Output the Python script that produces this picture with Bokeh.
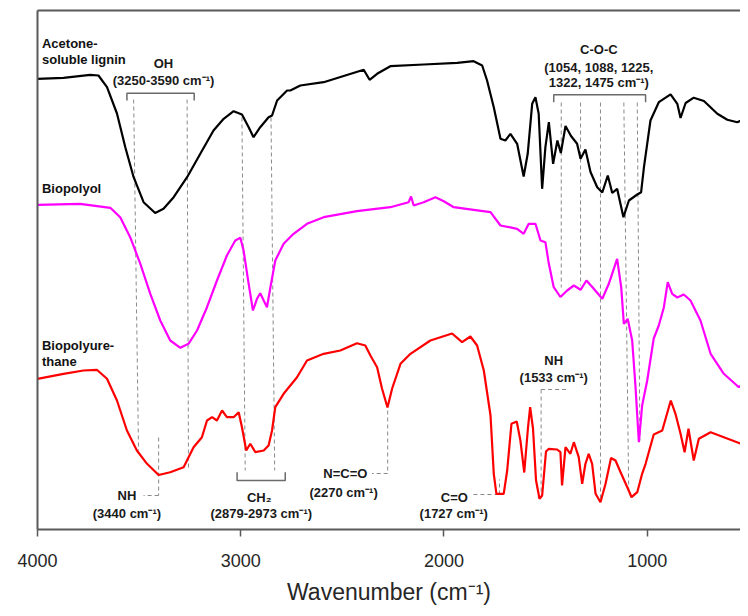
from bokeh.plotting import figure
from bokeh.models import Range1d, FixedTicker, LinearAxis
from bokeh.core.properties import value
from bokeh.embed import file_html
from bokeh.resources import INLINE

FONT = "Liberation Sans"

# ---- spectra (wavenumber, cm-1 ; transmittance, arbitrary offset units) ----
lignin_wn = [4000, 3872, 3741, 3700, 3658, 3609, 3568, 3527, 3478, 3421, 3380, 3330, 3264, 3199,
             3134, 3084, 3035, 2994, 2961, 2937, 2904, 2863, 2846, 2821, 2772, 2756, 2707, 2592,
             2395, 2366, 2329, 2264, 2100, 1935, 1854, 1812, 1788, 1755, 1722, 1698, 1673, 1640,
             1608, 1588, 1566, 1550, 1534, 1517, 1501, 1484, 1463, 1442, 1425, 1402, 1375, 1345,
             1328, 1304, 1279, 1246, 1221, 1194, 1172, 1148, 1117, 1090, 1049, 1030, 1016, 984,
             943, 885, 852, 836, 811, 771, 721, 655, 606, 557, 501]
lignin_t = [450.7, 451.7, 454.7, 454, 442.3, 416, 382.3, 352.3, 327.3, 316.5, 320.7, 332.3, 352.3,
            375.7, 399, 410.7, 418.3, 415, 402.3, 392.3, 402.3, 412.3, 414, 429, 439, 439, 444,
            447.3, 459.7, 449.7, 455.7, 463.3, 465, 466.7, 468.3, 464, 449, 422.3, 390.7, 389,
            395.7, 385.7, 353, 375.7, 425.7, 432.3, 415.7, 340.7, 382.3, 407.3, 365.7, 389, 376.5,
            403.5, 393.5, 385.7, 370.7, 380, 357.5, 342.3, 337, 354, 336.5, 340.7, 312.3, 329, 335,
            337.3, 362.3, 409, 427.3, 435.2, 425.7, 411.5, 426.5, 431.8, 428.5, 415.7, 409.7, 407.3,
            412]

polyol_wn = [4000, 3790, 3642, 3593, 3544, 3494, 3445, 3396, 3347, 3297, 3257, 3215, 3166, 3117,
             3068, 3027, 3002, 2986, 2961, 2940, 2920, 2904, 2887, 2871, 2854, 2830, 2789, 2740,
             2674, 2592, 2428, 2264, 2174, 2162, 2149, 2100, 2042, 2001, 1952, 1854, 1771, 1722,
             1640, 1608, 1583, 1550, 1525, 1501, 1484, 1460, 1427, 1394, 1361, 1328, 1299, 1263,
             1221, 1189, 1148, 1128, 1115, 1096, 1074, 1058, 1041, 1025, 1000, 968, 943, 918, 899,
             877, 852, 820, 787, 738, 688, 623, 549, 501]
polyol_t = [324.7, 325.7, 321.7, 312.3, 292.3, 265.7, 235.7, 209, 189, 181.7, 185.7, 199, 222.3,
            249, 274, 289, 291.7, 279, 245.7, 219, 230.7, 236.3, 229, 222.3, 242.3, 269, 285.7,
            295.7, 305.7, 312.3, 318.3, 322.3, 327.3, 333, 324, 327.3, 332.3, 328.3, 322.3, 319.7,
            317.3, 304, 300.7, 295.7, 305.7, 305.7, 289, 287.3, 265.7, 242.3, 232.5, 239, 244,
            239.7, 249, 240.7, 230.7, 245.7, 270.7, 242.3, 205.7, 210.7, 189, 144, 87.3, 124, 149,
            191, 204, 222.3, 247.3, 235.7, 232, 235, 229, 209, 175.7, 155.7, 142.3, 150.7]

pu_wn = [4000, 3872, 3774, 3708, 3658, 3609, 3560, 3511, 3461, 3404, 3347, 3281, 3232, 3191, 3166,
         3141, 3117, 3092, 3068, 3035, 3010, 2994, 2973, 2953, 2928, 2887, 2863, 2846, 2830, 2789,
         2723, 2674, 2592, 2510, 2428, 2387, 2362, 2329, 2305, 2278, 2255, 2214, 2165, 2067, 1960,
         1911, 1870, 1837, 1804, 1771, 1755, 1742, 1706, 1689, 1668, 1642, 1624, 1605, 1587, 1576,
         1562, 1547, 1530, 1517, 1498, 1484, 1443, 1427, 1419, 1402, 1378, 1361, 1337, 1320, 1304,
         1288, 1271, 1254, 1230, 1205, 1178, 1156, 1131, 1098, 1077, 1049, 1025, 1008, 968, 926,
         884, 861, 836, 816, 797, 771, 746, 688, 623, 537, 516, 501]
pu_t = [150.7, 155.7, 159, 159.7, 150.7, 129, 99, 79, 65.7, 54.5, 57.3, 62.3, 82.3, 92.3, 109,
        112.3, 109, 119, 112.3, 112.3, 117.3, 102.3, 79, 85.7, 77.3, 79, 84, 99, 122.3, 135.7,
        152.3, 169, 175.7, 179, 186.3, 184, 174, 162.3, 141, 122, 141, 165.7, 175.7, 189, 196,
        187.3, 193, 184, 159, 114, 55.7, 35.7, 35.7, 59, 105.7, 108, 89, 57, 101, 122.3, 101, 49,
        30.7, 34, 78, 80.7, 80, 77.3, 44, 82.3, 75.7, 87.3, 72.3, 45.7, 65.7, 75.7, 65.7, 35.7,
        27.3, 45.7, 71.5, 69, 57.3, 42.3, 32.3, 37.3, 55.7, 65.7, 95, 99, 129, 115.7, 95.7, 77.3,
        100.7, 69, 90.7, 97.3, 92.3, 85.7, 67, 77]

x_ticks = [4000, 3000, 2000, 1000]

# ---- annotations ----
guide_x0 = [3527, 3264, 2994, 2851, 3404, 3404, 2277, 2277, 1732, 1727, 1522, 1522, 1423, 1328, 1230, 1115, 1049]
guide_y0 = [430, 430, 412, 412, 92, 34, 119, 56, 35, 35, 140, 140, 427, 427, 427, 427, 427]
guide_x1 = [3503, 3257, 2978, 2833, 3404, 3478, 2277, 2354, 1855, 1727, 1394, 1522, 1423, 1328, 1230, 1091, 1036]
guide_y1 = [79, 62, 59, 59, 34, 34, 56, 56, 35, 50, 140, 36, 242, 244, 29, 39, 89]

bracket_xs = [[3560, 3560, 3229, 3229], [3018, 3018, 2781, 2781], [1460, 1460, 1008, 1008]]
bracket_ys = [[429, 436.3, 436.3, 429], [57.3, 49, 49, 57.3], [427.3, 434.7, 434.7, 427.3]]

note_x = [3380, 3380, 2909, 2899, 3560, 3560, 2485, 2494, 1949, 1952, 1460, 1460, 1238, 1238, 1238]
note_y = [465.7, 449, 32.3, 16.5, 34, 15.7, 56, 37.3, 32.3, 15.7, 169, 152.3, 480, 462.3, 447.3]
note_text = ["OH", "(3250-3590 cm\u207b\u00b9)", "CH\u2082", "(2879-2973 cm\u207b\u00b9)",
             "NH", "(3440 cm\u207b\u00b9)", "N=C=O", "(2270 cm\u207b\u00b9)",
             "C=O", "(1727 cm\u207b\u00b9)", "NH", "(1533 cm\u207b\u00b9)",
             "C-O-C", "(1054, 1088, 1225,", "1322, 1475 cm\u207b\u00b9)"]

series_label_x = [3978, 3978, 3978, 3978, 3978]
series_label_y = [485.7, 469.7, 340.7, 184, 168.3]
series_label_text = ["Acetone-", "soluble lignin", "Biopolyol", "Biopolyure-", "thane"]

# ---- figure ----
p = figure(width=740, height=608, output_backend="svg", toolbar_location=None,
           x_range=Range1d(4000, 541), y_range=Range1d(0, 519),
           min_border_left=37, min_border_top=10, min_border_right=0, min_border_bottom=79)
p.background_fill_color = "white"
p.border_fill_color = "white"
p.outline_line_color = None
p.xgrid.visible = False
p.ygrid.visible = False

AX = "#595959"
xa = p.xaxis[0]
xa.ticker = FixedTicker(ticks=x_ticks)
xa.minor_tick_line_color = None
xa.major_tick_in = 0
xa.major_tick_out = 7
xa.major_tick_line_color = AX
xa.major_tick_line_width = 1.5
xa.axis_line_color = AX
xa.axis_line_width = 2
xa.major_label_text_font = FONT
xa.major_label_text_font_size = "18px"
xa.major_label_text_color = "#262626"
xa.major_label_standoff = 17
xa.axis_label = "Wavenumber (cm\u207b\u00b9)"
xa.axis_label_text_font = FONT
xa.axis_label_text_font_size = "23px"
xa.axis_label_text_font_style = "normal"
xa.axis_label_text_color = "#262626"
xa.axis_label_standoff = 9

ya = p.yaxis[0]
ya.ticker = FixedTicker(ticks=[])
ya.major_tick_line_color = None
ya.minor_tick_line_color = None
ya.axis_line_color = AX
ya.axis_line_width = 2

top = LinearAxis(ticker=FixedTicker(ticks=[]), axis_line_color=AX, axis_line_width=2,
                 major_tick_line_color=None, minor_tick_line_color=None, major_label_standoff=0)
p.add_layout(top, "above")

# guides
p.segment(x0=guide_x0, y0=guide_y0, x1=guide_x1, y1=guide_y1,
          line_color="#8a8a8a", line_width=1, line_dash="4 3")
p.multi_line(xs=bracket_xs, ys=bracket_ys, line_color="#6b6b6b", line_width=1.5)

# spectra
p.line(lignin_wn, lignin_t, line_color="#000000", line_width=2.2)
p.line(polyol_wn, polyol_t, line_color="#FF00FF", line_width=2.2)
p.line(pu_wn, pu_t, line_color="#FF0000", line_width=2.2)

# texts
p.text(x=note_x, y=note_y, text=note_text, text_font=value(FONT), text_font_size="13px",
       text_font_style="bold", text_align="center", text_baseline="middle", text_color="#1a1a1a")
p.text(x=series_label_x, y=series_label_y, text=series_label_text, text_font=value(FONT),
       text_font_size="13px", text_font_style="bold", text_align="left", text_baseline="middle",
       text_color="#111111")

open("out.html", "w").write(file_html(p, INLINE))
